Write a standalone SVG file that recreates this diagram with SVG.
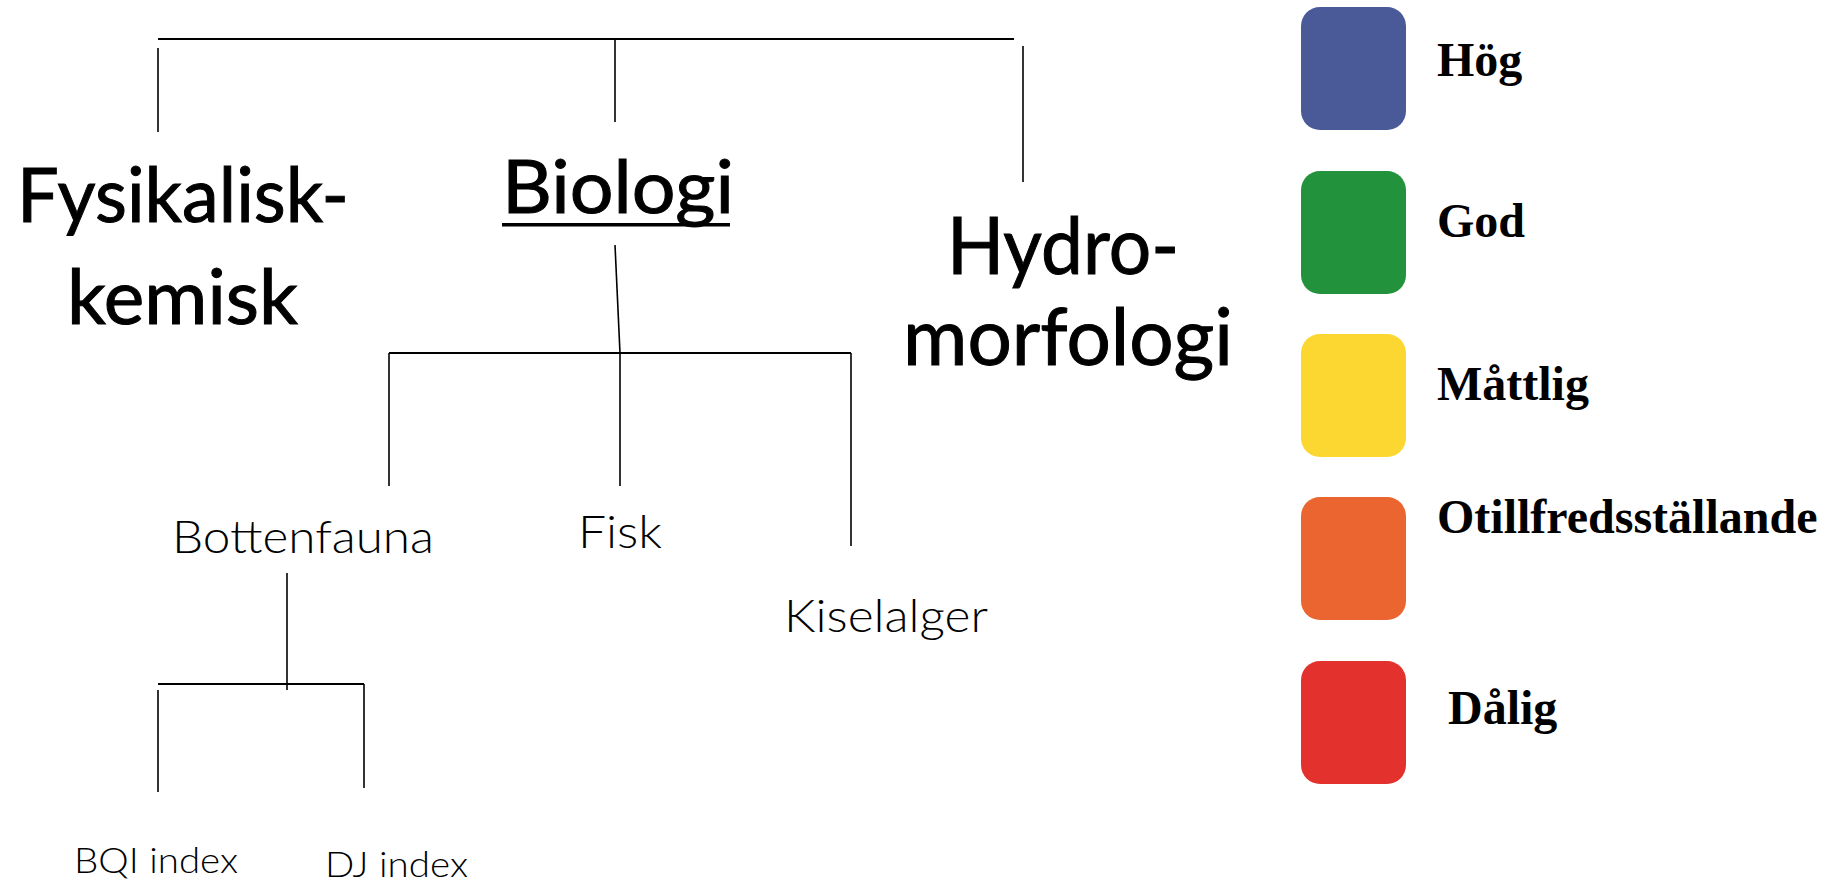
<svg xmlns="http://www.w3.org/2000/svg" width="1844" height="884" viewBox="0 0 1844 884">
<style>
.ln{stroke:#000;stroke-width:1.6;fill:none}
.big{font-family:Lato,"Liberation Sans",sans-serif;fill:#000;stroke:#000;stroke-width:1}
.sm{font-family:Lato,"Liberation Sans",sans-serif;font-weight:300;fill:#000}
.lg{font-family:"Liberation Serif","Times New Roman",serif;font-weight:bold;font-size:48px;fill:#000}
</style>
<rect width="1844" height="884" fill="#fff"/>
<g id="connectors">
<line class="ln" x1="158" y1="39" x2="1014" y2="39" style="stroke-width:2.2"/>
<line class="ln" x1="158" y1="48" x2="158" y2="132"/>
<line class="ln" x1="615" y1="39" x2="615" y2="122"/>
<line class="ln" x1="1023" y1="46" x2="1023" y2="182"/>
<line class="ln" x1="615" y1="245" x2="620" y2="353"/>
<line class="ln" x1="389" y1="353" x2="851" y2="353" style="stroke-width:2"/>
<line class="ln" x1="389" y1="353" x2="389" y2="486"/>
<line class="ln" x1="620" y1="353" x2="620" y2="486"/>
<line class="ln" x1="851" y1="353" x2="851" y2="546"/>
<line class="ln" x1="287" y1="573" x2="287" y2="690"/>
<line class="ln" x1="158" y1="684" x2="364" y2="684" style="stroke-width:2"/>
<line class="ln" x1="158" y1="690" x2="158" y2="792"/>
<line class="ln" x1="364" y1="684" x2="364" y2="788"/>
</g>
<g id="fysikalisk">
<text class="big" font-size="76" x="17" y="222" textLength="332" lengthAdjust="spacingAndGlyphs">Fysikalisk-</text>
<text class="big" font-size="76" x="67" y="324" textLength="231" lengthAdjust="spacingAndGlyphs">kemisk</text>
</g>
<g id="biologi">
<text class="big" font-size="74" x="502" y="213" textLength="232" lengthAdjust="spacingAndGlyphs">Biologi</text>
<rect x="502" y="223" width="228" height="3.5" fill="#000"/>
</g>
<g id="hydromorfologi">
<text class="big" font-size="80" x="947" y="274" textLength="232" lengthAdjust="spacingAndGlyphs">Hydro-</text>
<text class="big" font-size="80" x="903" y="365" textLength="330" lengthAdjust="spacingAndGlyphs">morfologi</text>
</g>
<g id="bottenfauna"><text class="sm" font-size="45" x="172" y="553" textLength="262" lengthAdjust="spacingAndGlyphs">Bottenfauna</text></g>
<g id="fisk"><text class="sm" font-size="46" x="578" y="548" textLength="84" lengthAdjust="spacingAndGlyphs">Fisk</text></g>
<g id="kiselalger"><text class="sm" font-size="45" x="784" y="632" textLength="204" lengthAdjust="spacingAndGlyphs">Kiselalger</text></g>
<g id="bqi"><text class="sm" font-size="36" x="74" y="873" textLength="164" lengthAdjust="spacingAndGlyphs">BQI index</text></g>
<g id="dj"><text class="sm" font-size="36" x="325" y="877" textLength="143" lengthAdjust="spacingAndGlyphs">DJ index</text></g>
<g id="legend-hog">
<rect x="1301" y="7" width="105" height="123" rx="19" fill="#4A5A99"/>
<text class="lg" x="1437" y="76">Hög</text>
</g>
<g id="legend-god">
<rect x="1301" y="171" width="105" height="123" rx="19" fill="#22923C"/>
<text class="lg" x="1437" y="237">God</text>
</g>
<g id="legend-mattlig">
<rect x="1301" y="334" width="105" height="123" rx="19" fill="#FDD731"/>
<text class="lg" x="1437" y="400">Måttlig</text>
</g>
<g id="legend-otillfredsstallande">
<rect x="1301" y="497" width="105" height="123" rx="19" fill="#EA652F"/>
<text class="lg" x="1437" y="533">Otillfredsställande</text>
</g>
<g id="legend-dalig">
<rect x="1301" y="661" width="105" height="123" rx="19" fill="#E3312D"/>
<text class="lg" x="1448" y="724">Dålig</text>
</g>
</svg>
